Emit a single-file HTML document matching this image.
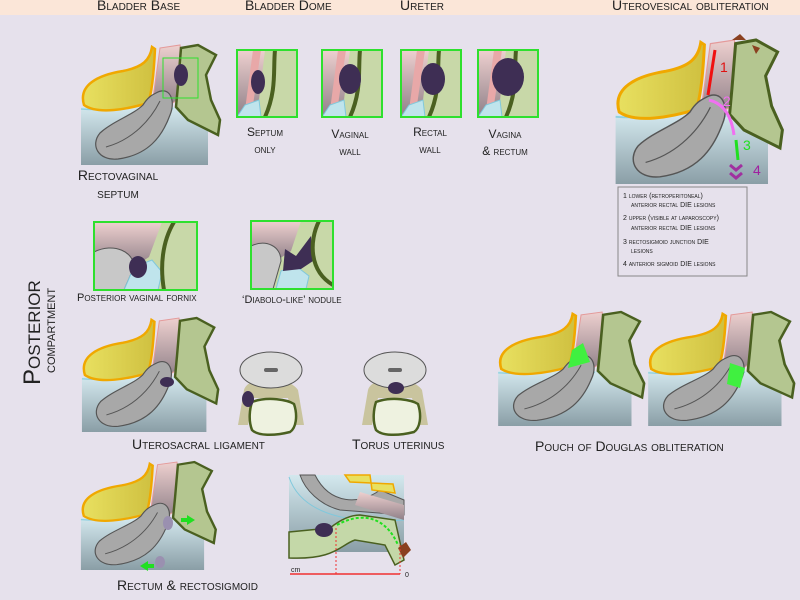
<!DOCTYPE html>
<html><head><meta charset="utf-8"><style>
html,body{margin:0;padding:0;background:#e6e1ec;}
svg{display:block}
text{font-family:"Liberation Sans",sans-serif;fill:#222;}
.sc{font-variant:small-caps;}
</style></head><body>
<svg width="800" height="600" viewBox="0 0 800 600" xmlns="http://www.w3.org/2000/svg">
<defs>
<linearGradient id="gb" x1="0" y1="0" x2="0" y2="1"><stop offset="0" stop-color="#d3e8ee"/><stop offset="1" stop-color="#8a9ea6"/></linearGradient>
<linearGradient id="gp" x1="0" y1="0" x2="0" y2="1"><stop offset="0" stop-color="#eed0cf"/><stop offset="1" stop-color="#8f8088"/></linearGradient>
<linearGradient id="gy" x1="0" y1="0" x2="1" y2="0"><stop offset="0" stop-color="#e8e060"/><stop offset="1" stop-color="#cfc040"/></linearGradient>
<g id="sag">
<rect x="3" y="62" width="127" height="58" fill="url(#gb)"/>
<path d="M3,64 Q30,66 60,60 Q85,56 95,64" fill="none" stroke="#8fd0e0" stroke-width="1.5"/>
<path d="M6,60 C0,40 20,30 45,26 C65,22 72,15 74,2 L77,4 C76,25 74,48 70,58 C50,64 20,70 6,60Z" fill="url(#gy)" stroke="#f0a800" stroke-width="2.5"/>
<path d="M82,3 L102,0 L108,50 L88,62 L74,60Z" fill="url(#gp)" stroke="#e49a9a" stroke-width="1"/>
<path d="M78,48 C92,40 98,56 92,70 C84,92 70,110 40,114 C20,116 12,100 22,88 C35,76 55,70 65,60 C70,52 74,50 78,48Z" fill="#a8a8a8" stroke="#555" stroke-width="1.2"/>
<path d="M28,102 C50,96 70,80 82,56" fill="none" stroke="#555" stroke-width="1"/>
<path d="M103,3 L120,0 L138,10 L128,30 L133,55 L142,75 L140,90 L110,75 L98,62 L100,40Z" fill="#b4c690" stroke="#4a6020" stroke-width="2.5"/>
</g>
<g id="ins">
<rect x="0" y="0" width="60" height="67" fill="#c8d8a8"/>
<path d="M0,0 L28,0 L22,50 L8,67 L0,67Z" fill="url(#gp)"/>
<path d="M16,0 L24,0 L16,55 L8,60Z" fill="#e8a8a8"/>
<path d="M0,67 L8,55 L22,50 L24,67Z" fill="#bfe4ec" stroke="#80c8dc"/>
<path d="M38,0 C36,20 40,40 28,67" fill="none" stroke="#4a6020" stroke-width="4"/>
<rect x="0" y="0" width="60" height="67" fill="none" stroke="#2ee02e" stroke-width="2"/>
</g>
<g id="cross">
<path d="M6,40 C10,25 50,25 60,40 L66,75 L56,75 L50,48 L16,48 L10,75 L0,75Z" fill="#c9c49e"/>
<ellipse cx="33" cy="20" rx="31" ry="18" fill="#dcdcdc" stroke="#555"/>
<rect x="26" y="18" width="14" height="4" rx="2" fill="#666"/>
<path d="M14,52 C30,46 50,50 56,54 C60,66 58,78 52,82 C36,86 20,86 14,80 C10,70 12,58 14,52Z" fill="#eef2e0" stroke="#4a6020" stroke-width="2.5"/>
</g>
</defs>
<rect x="0" y="0" width="800" height="15" fill="#fbe6d8"/>
<g font-size="14" class="sc">
<text x="97" y="10">Bladder Base</text><text x="245" y="10">Bladder Dome</text>
<text x="400" y="10">Ureter</text><text x="612" y="10">Uterovesical obliteration</text>
</g>
<!-- rectovaginal -->
<use href="#sag" transform="translate(78,45)"/>
<rect x="163" y="58" width="35" height="40" fill="none" stroke="#2ee02e" stroke-width="1"/>
<ellipse cx="181" cy="75" rx="7" ry="11" fill="#3e2e54"/>
<text x="118" y="180" font-size="14" text-anchor="middle" class="sc">Rectovaginal</text>
<text x="118" y="198" font-size="14" text-anchor="middle" class="sc">septum</text>
<use href="#ins" transform="translate(237,50)"/><ellipse cx="258" cy="82" rx="7" ry="12" fill="#3e2e54"/>
<use href="#ins" transform="translate(322,50)"/><ellipse cx="350" cy="79" rx="11" ry="15" fill="#3e2e54"/>
<use href="#ins" transform="translate(401,50)"/><ellipse cx="433" cy="79" rx="12" ry="16" fill="#3e2e54"/>
<use href="#ins" transform="translate(478,50)"/><ellipse cx="508" cy="77" rx="16" ry="19" fill="#3e2e54"/>
<g font-size="12" text-anchor="middle" class="sc">
<text x="265" y="136">Septum</text><text x="265" y="153">only</text>
<text x="350" y="138">Vaginal</text><text x="350" y="155">wall</text>
<text x="430" y="136">Rectal</text><text x="430" y="153">wall</text>
<text x="505" y="138">Vagina</text><text x="505" y="155">&amp; rectum</text>
</g>
<!-- uterovesical -->
<use href="#sag" transform="translate(612,40) scale(1.2,1.2)"/>
<path d="M715,50 L708,95" stroke="#f01010" stroke-width="3"/>
<text x="720" y="72" font-size="14" style="fill:#e01010">1</text>
<path d="M709,100 Q730,105 734,135" stroke="#f070f0" stroke-width="3" fill="none"/>
<text x="723" y="106" font-size="14" style="fill:#f070f0">2</text>
<path d="M736,140 L738,160" stroke="#20e020" stroke-width="3"/>
<text x="743" y="150" font-size="14" style="fill:#20e020">3</text>
<text x="753" y="175" font-size="14" style="fill:#a020a0">4</text>
<path d="M730,165 l6,5 l6,-5 M730,173 l6,5 l6,-5" stroke="#a030a0" stroke-width="3" fill="none"/>
<path d="M732,40 l8,-6 l6,6z M752,45 l8,3 l-4,6z" fill="#8a4020"/>
<rect x="618" y="187" width="129" height="89" fill="#e6e1ec" stroke="#888"/>
<g font-size="7" class="sc">
<text x="623" y="198">1   lower (retroperitoneal)</text><text x="631" y="207">anterior rectal DIE lesions</text>
<text x="623" y="220">2   upper (visible at laparoscopy)</text><text x="631" y="230">anterior rectal DIE lesions</text>
<text x="623" y="244">3   rectosigmoid junction DIE</text><text x="631" y="253">lesions</text>
<text x="623" y="266">4   anterior sigmoid DIE lesions</text>
</g>
<!-- row 2 insets -->
<g transform="translate(94,222)">
<rect width="103" height="68" fill="#c8d8a8"/><path d="M0,0 H68 L55,35 L40,45 L0,35Z" fill="url(#gp)"/>
<path d="M0,30 C20,20 40,30 40,45 L30,68 H0Z" fill="#c8c8c8" stroke="#555"/>
<path d="M40,45 L58,38 L68,50 L64,68 H30Z" fill="#bfe4ec" stroke="#80c8dc"/>
<ellipse cx="44" cy="45" rx="9" ry="11" fill="#3e2e54"/>
<path d="M80,0 C68,20 66,45 70,68" fill="none" stroke="#4a6020" stroke-width="4"/>
<rect width="103" height="68" fill="none" stroke="#2ee02e" stroke-width="2"/></g>
<g transform="translate(251,221)">
<rect width="82" height="68" fill="#c8d8a8"/><path d="M0,0 H50 L40,30 L25,40 L0,30Z" fill="url(#gp)"/>
<path d="M0,25 C15,18 30,25 30,40 L22,68 H0Z" fill="#c8c8c8" stroke="#555"/>
<path d="M30,50 L45,45 L58,55 L55,68 H25Z" fill="#bfe4ec" stroke="#80c8dc"/>
<path d="M34,28 L45,35 L60,15 L62,40 L50,48 L32,50Z" fill="#3e2e54"/>
<path d="M68,0 C58,20 58,50 82,64" fill="none" stroke="#4a6020" stroke-width="4"/>
<rect width="82" height="68" fill="none" stroke="#2ee02e" stroke-width="2"/></g>
<g font-size="11" class="sc"><text x="77" y="301">Posterior vaginal fornix</text><text x="242" y="303">‘Diabolo-like’ nodule</text></g>
<!-- vertical -->
<g transform="translate(40,385) rotate(-90)"><text font-size="24" x="0" y="0" class="sc">Posterior</text></g>
<g transform="translate(55,385) rotate(-90)"><text font-size="15" x="12" y="0" class="sc">compartment</text></g>
<!-- uterosacral -->
<use href="#sag" transform="translate(79,318) scale(0.98,0.95)"/>
<ellipse cx="167" cy="382" rx="7" ry="5" fill="#3e2e54"/>
<use href="#cross" transform="translate(238,350)"/><ellipse cx="248" cy="399" rx="6" ry="8" fill="#3e2e54"/>
<use href="#cross" transform="translate(362,350)"/><ellipse cx="396" cy="388" rx="8" ry="6" fill="#3e2e54"/>
<g font-size="14" class="sc"><text x="132" y="449">Uterosacral  ligament</text><text x="352" y="449">Torus uterinus</text></g>
<!-- pouch -->
<use href="#sag" transform="translate(495,312) scale(1.05,0.95)"/>
<path d="M572,350 L583,343 L590,362 L568,368Z" fill="#40f040"/>
<use href="#sag" transform="translate(645,312) scale(1.05,0.95)"/>
<path d="M730,363 L745,368 L740,388 L727,384Z" fill="#40f040"/>
<text x="535" y="451" font-size="14" class="sc">Pouch of Douglas obliteration</text>
<!-- rectum -->
<use href="#sag" transform="translate(78,462) scale(0.97,0.9)"/>
<ellipse cx="168" cy="523" rx="5" ry="7" fill="#9a90b0"/><ellipse cx="160" cy="562" rx="5" ry="6" fill="#9a90b0"/>
<path d="M195,520 l-8,-5 v3 h-6 v4 h6 v3z M140,566 l8,-5 v3 h6 v4 h-6 v3z" fill="#20e020"/>
<text x="117" y="590" font-size="14" class="sc">Rectum &amp; rectosigmoid</text>
<!-- bottom right -->
<g>
<rect x="289" y="475" width="115" height="77" fill="url(#gb)"/>
<path d="M289,477 C300,510 340,525 404,520" fill="none" stroke="#80c8dc"/>
<path d="M315,475 C330,505 360,505 380,490 L404,500 L404,515 L340,510 C320,505 305,490 300,475Z" fill="#a8a8a8" stroke="#555"/>
<path d="M345,475 H370 L372,490 L395,493 L393,484 L350,482Z" fill="#e8e060" stroke="#f0a800" stroke-width="1.5"/>
<path d="M360,492 L404,505 L404,520 L355,505Z" fill="url(#gp)"/>
<path d="M289,532 L330,528 C340,520 350,515 360,515 L395,520 L404,560 L395,565 L385,545 L355,540 C340,545 335,560 289,558Z" fill="#c4d8a8" stroke="#4a6020" stroke-width="1.5"/>
<ellipse cx="324" cy="530" rx="9" ry="7" fill="#3e2e54"/>
<path d="M337,525 C360,512 385,515 398,545" fill="none" stroke="#20e020" stroke-width="2" stroke-dasharray="3,2"/>
<path d="M398,548 l8,-6 l5,8 l-8,8z" fill="#8a4020"/>
<path d="M336,528 V574 M400,545 V574" stroke="#f03030" stroke-dasharray="2,2"/>
<path d="M290,574 H400" stroke="#f03030" stroke-width="1.5"/>
<text x="291" y="572" font-size="7">cm</text><text x="405" y="577" font-size="7">0</text>
</g>
</svg>
</body></html>
